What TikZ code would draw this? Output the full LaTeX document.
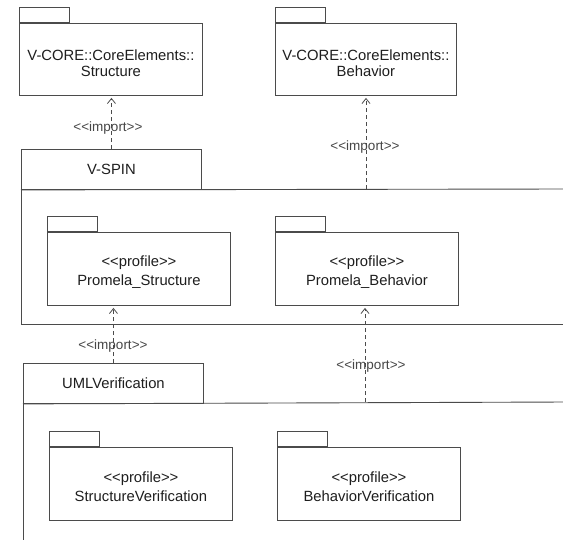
\documentclass[tikz,border=0pt]{standalone}
\usepackage{fontspec}
\setmainfont{Liberation Sans}
\usetikzlibrary{arrows.meta}
\definecolor{lncol}{RGB}{75,75,75}
\definecolor{txcol}{RGB}{30,30,30}
\definecolor{lbcol}{RGB}{70,70,70}
\newcommand\stin{<\kern0pt<import>\kern0pt>}
\newcommand\stpr{<\kern0pt<profile>\kern0pt>}
\begin{document}
\begin{tikzpicture}[x=1pt,y=-1pt,
  ln/.style={draw=lncol, line width=0.9pt},
  pkgbody/.style={ln, rectangle, anchor=north west, inner sep=0pt},
  pkgtext/.style={inner sep=0pt, align=center, yshift=-3pt,
    font=\fontsize{14.8}{19}\selectfont, text=txcol},
  pkgtab/.style={ln, rectangle, anchor=south west, inner sep=0pt,
    minimum width=50pt, minimum height=15pt},
  contab/.style={ln, rectangle, anchor=north west, inner sep=0pt,
    minimum width=180pt, minimum height=40pt,
    font=\fontsize{14.8}{19}\selectfont, text=txcol},
  imp/.style={ln, line width=0.8pt, dash pattern=on 4pt off 3pt, shorten >=2pt,
    -{Straight Barb[length=5pt,width=8pt,line width=0.8pt]}},
  lbl/.style={inner sep=0pt, font=\fontsize{13.5}{16}\selectfont, text=lbcol}
]
\useasboundingbox[fill=white] (0,0) rectangle (563,539);

% top packages
\node[pkgbody, minimum width=183pt, minimum height=72pt] (s1) at (19,23) {};
\node[pkgtab] (s1tab) at (s1.north west) {};
\node[pkgtext, yshift=-1pt, font=\fontsize{14.8}{16.5}\selectfont] (s1t) at (s1.center)
  {V-CORE::CoreElements::\\Structure};
\node[pkgbody, minimum width=181pt, minimum height=72pt] (b1) at (275,23) {};
\node[pkgtab] (b1tab) at (b1.north west) {};
\node[pkgtext, yshift=-1pt, font=\fontsize{14.8}{16.5}\selectfont] (b1t) at (b1.center)
  {V-CORE::CoreElements::\\Behavior};

% V-SPIN container
\node[contab] (vspin) at (21,149) {V-SPIN};
\draw[ln] (vspin.south west) -- (21,324) -- (566,324);
\draw[ln] (vspin.south west) -- (566,189);
\coordinate (vbtop) at (366,189);

\node[pkgbody, minimum width=183pt, minimum height=73pt] (ps) at (47,232) {};
\node[pkgtab] (pstab) at (ps.north west) {};
\node[pkgtext] (pst) at (ps.center) {\stpr\\Promela\_Structure};
\node[pkgbody, minimum width=183pt, minimum height=73pt] (pb) at (275,232) {};
\node[pkgtab] (pbtab) at (pb.north west) {};
\node[pkgtext] (pbt) at (pb.center) {\stpr\\Promela\_Behavior};

% UMLVerification container
\node[contab] (uml) at (23,363) {UMLVerification};
\draw[ln] (uml.south west) -- (23,545);
\draw[ln] (uml.south west) -- (566,402);
\coordinate (ubtop) at (365,402);

\node[pkgbody, minimum width=183pt, minimum height=73pt] (sv) at (49,447) {};
\node[pkgtab] (svtab) at (sv.north west) {};
\node[pkgtext] (svt) at (sv.center) {\stpr\\StructureVerification};
\node[pkgbody, minimum width=183pt, minimum height=73pt] (bv) at (277,447) {};
\node[pkgtab] (bvtab) at (bv.north west) {};
\node[pkgtext] (bvt) at (bv.center) {\stpr\\BehaviorVerification};

% import dependencies
\draw[imp] (vspin.north) -- (vspin.north |- s1.south);
\draw[imp] (vbtop) -- (vbtop |- b1.south);
\draw[imp] (uml.north) -- (uml.north |- ps.south);
\draw[imp] (ubtop) -- (ubtop |- pb.south);

\node[lbl] (l1) at (108,128) {\stin};
\node[lbl] (l2) at (365,147) {\stin};
\node[lbl] (l3) at (113,346) {\stin};
\node[lbl] (l4) at (371,366) {\stin};
\end{tikzpicture}
\end{document}
